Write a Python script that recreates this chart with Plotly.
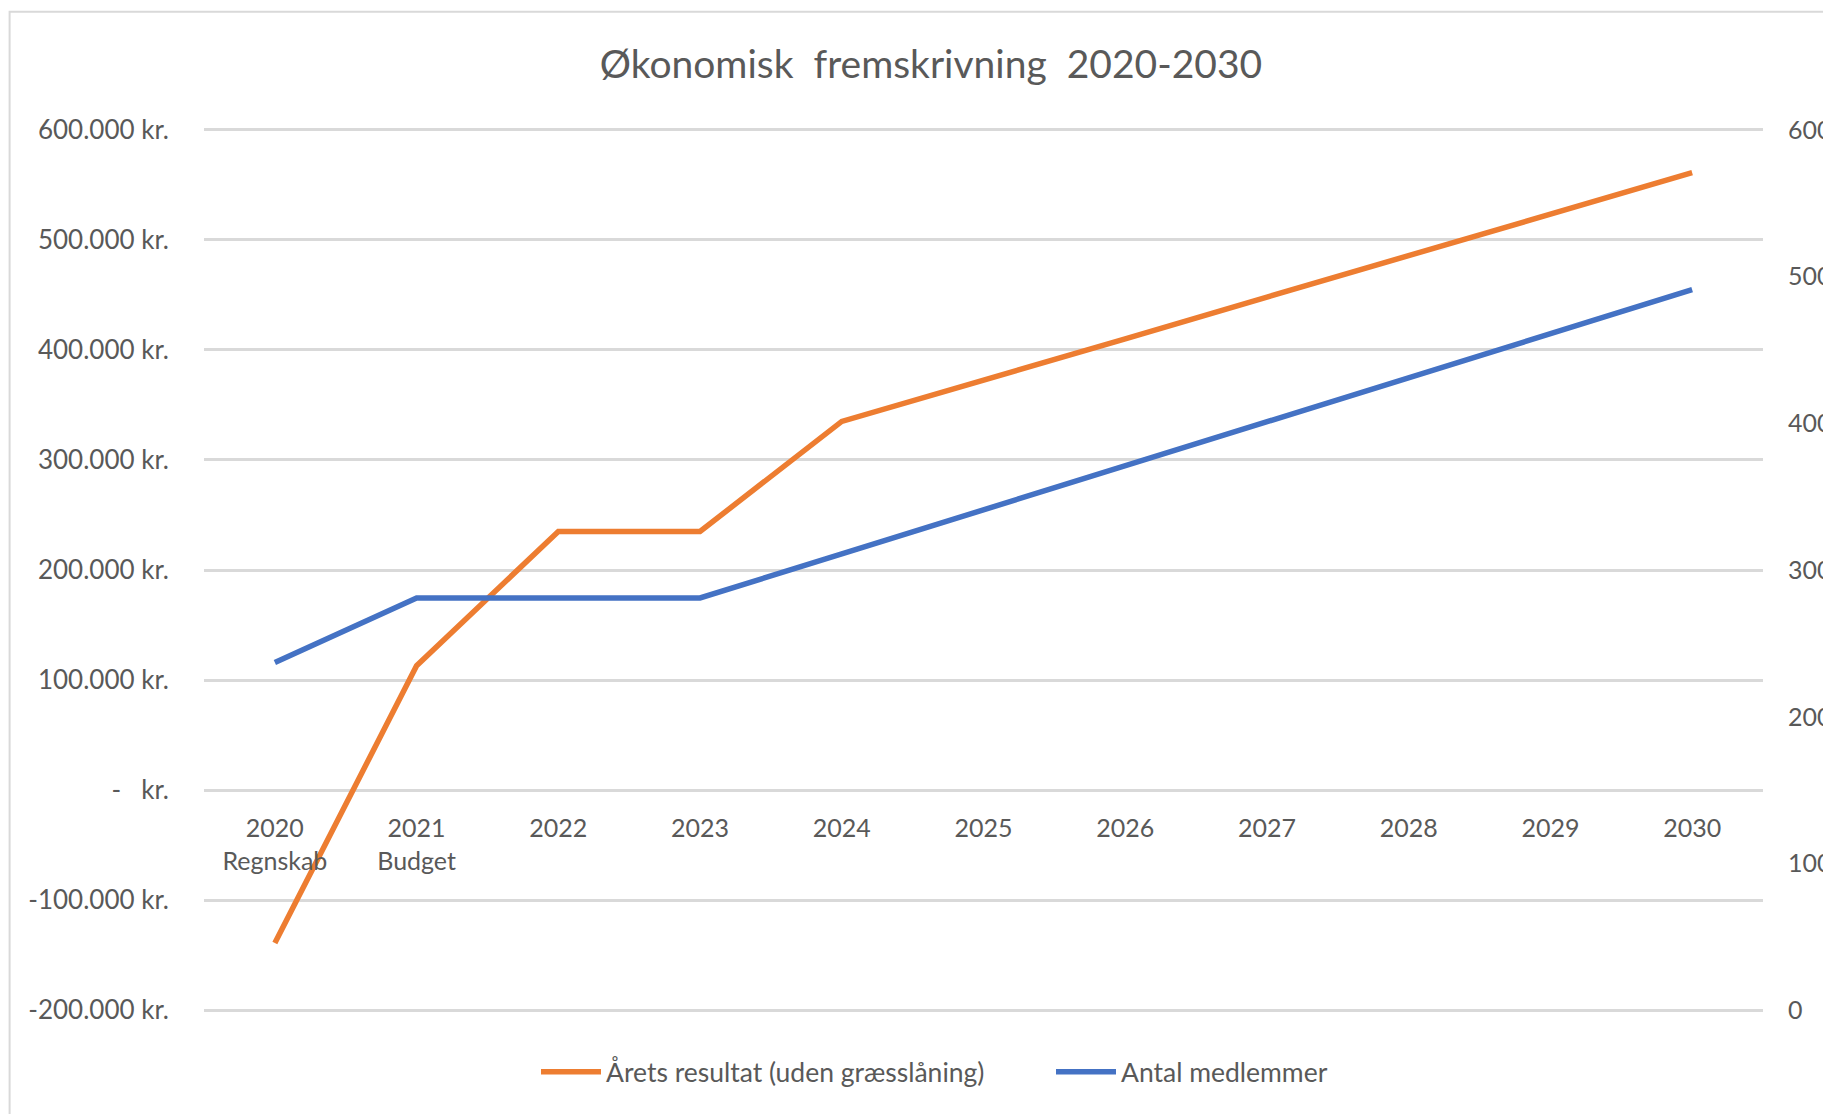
import plotly.graph_objects as go

# ---- data ----
years = ["2020", "2021", "2022", "2023", "2024", "2025", "2026", "2027", "2028", "2029", "2030"]
year_labels = ["2020<br>Regnskab", "2021<br>Budget", "2022", "2023", "2024", "2025",
               "2026", "2027", "2028", "2029", "2030"]
resultat = [-139000, 113000, 235000, 235000, 335000, 372000, 410000, 448000, 486000, 523000, 561000]
medlemmer = [237, 281, 281, 281, 311, 341, 371, 401, 431, 461, 491]

left_tickvals = [-200000, -100000, 0, 100000, 200000, 300000, 400000, 500000, 600000]
left_ticktext = ["-200.000 kr.", "-100.000 kr.", "-\u00a0\u00a0\u00a0kr.", "100.000 kr.",
                 "200.000 kr.", "300.000 kr.", "400.000 kr.", "500.000 kr.", "600.000 kr."]
right_tickvals = [0, 100, 200, 300, 400, 500, 600]

title_text = "Økonomisk  fremskrivning  2020-2030"
name_res = "Årets resultat (uden græsslåning)"
name_med = "Antal medlemmer"

FONT = "Lato"
TXT = "#595959"
GRID = "#D9D9D9"

W, H = 1831, 1114
OFF = 8  # page body margin offset

# desired plot-area geometry (page pixels)
L_pg, R_pg = 204, 1763
TOP_GRID_pg, BOT_GRID_pg = 129.6, 1010.0
PAD_UNITS = 2500
px_per_unit = (BOT_GRID_pg - TOP_GRID_pg) / 800000
pad_px = PAD_UNITS * px_per_unit

L = L_pg - OFF
R = R_pg - OFF
T = TOP_GRID_pg - OFF - pad_px
B = BOT_GRID_pg - OFF + pad_px

y1_range = [-200000 - PAD_UNITS, 600000 + PAD_UNITS]
y2_range = [(v + 200000) * 0.00075 for v in y1_range]
zero_frac = (0 - y1_range[0]) / (y1_range[1] - y1_range[0])

fig = go.Figure()
fig.add_trace(go.Scatter(x=years, y=resultat, name=name_res, mode="lines",
                         line=dict(color="#ED7D31", width=5.5), yaxis="y"))
fig.add_trace(go.Scatter(x=years, y=medlemmer, name=name_med, mode="lines",
                         line=dict(color="#4472C4", width=5.5), yaxis="y2"))

fig.update_layout(
    width=W, height=H,
    margin=dict(l=L, r=W - R, t=T, b=H - B, pad=0, autoexpand=False),
    paper_bgcolor="white", plot_bgcolor="white",
    font=dict(family=FONT, size=24, color=TXT),
    title=dict(text=title_text, x=(931 - OFF) / W, xref="container", xanchor="center",
               y=1 - (64 - OFF) / H, yref="container", yanchor="middle", automargin=False,
               font=dict(family=FONT, size=39, color=TXT)),
    xaxis=dict(type="category", categoryorder="array", categoryarray=years,
               tickvals=years, ticktext=year_labels, range=[-0.5, 10.5],
               showgrid=False, zeroline=False, showline=False, ticks="",
               anchor="free", position=zero_frac, ticklabelstandoff=21,
               automargin=False,
               tickfont=dict(family=FONT, size=25, color=TXT)),
    yaxis=dict(range=y1_range, tickvals=left_tickvals, ticktext=left_ticktext,
               showgrid=True, gridcolor=GRID, gridwidth=2.5, zeroline=False,
               showline=False, ticks="", ticklabelstandoff=34, automargin=False,
               tickfont=dict(family=FONT, size=26, color=TXT)),
    yaxis2=dict(range=y2_range, tickvals=right_tickvals, overlaying="y", side="right",
                showgrid=False, zeroline=False, showline=False, ticks="",
                ticklabelstandoff=24, automargin=False,
                tickfont=dict(family=FONT, size=25, color=TXT)),
    legend=dict(orientation="h", xref="container", yref="container",
                x=1043 / W, xanchor="center", y=1 - (1072 - OFF) / H, yanchor="middle",
                font=dict(family=FONT, size=26.5, color=TXT), itemwidth=60,
                entrywidth=440, traceorder="normal", bgcolor="rgba(0,0,0,0)"),
    showlegend=True,
)

# chart border (outer frame, partly off-canvas)
pw, ph = R - L, B - T
fig.add_shape(type="rect", xref="paper", yref="paper",
              x0=(9.6 - OFF - L) / pw, x1=(W + 20 - L) / pw,
              y0=(B - (H + 20)) / ph, y1=(B - (11.7 - OFF)) / ph,
              line=dict(color=GRID, width=2), fillcolor="rgba(0,0,0,0)", layer="below")

fig.write_html("out.html")
